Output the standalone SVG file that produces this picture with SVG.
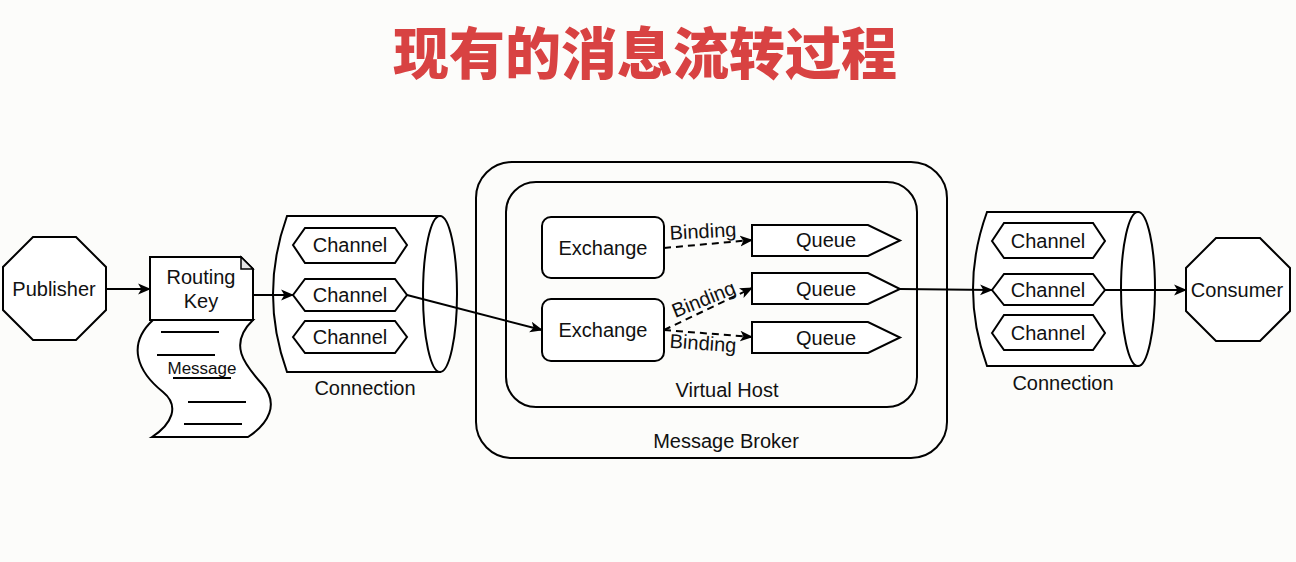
<svg xmlns="http://www.w3.org/2000/svg" width="1296" height="562" viewBox="0 0 1296 562">
<style>
.s{fill:#ffffff;stroke:#000;stroke-width:2}
.n{fill:none;stroke:#000;stroke-width:2}
.t{font-family:"Liberation Sans",Arial,sans-serif;font-size:20px;fill:#111;text-anchor:middle}
.e{stroke:#000;stroke-width:2;fill:none}
.d{stroke:#000;stroke-width:2;fill:none;stroke-dasharray:7 5}
</style>
<defs>
<marker id="ah" viewBox="0 0 12 12" refX="11" refY="6" markerWidth="13" markerHeight="13" markerUnits="userSpaceOnUse" orient="auto">
<path d="M0,1 L12,6 L0,11 L3,6 Z" fill="#000"/>
</marker>
</defs>
<rect width="1296" height="562" fill="#fcfcfa"/>
<text x="645" y="74" font-family="'Noto Sans CJK SC',sans-serif" font-size="56" font-weight="900" fill="#d84242" text-anchor="middle">现有的消息流转过程</text>

<g id="publisher">
<polygon class="s" points="33,237 76,237 106,267 106,310 76,340 33,340 3,310 3,267"/>
<text class="t" x="54" y="296">Publisher</text>
</g>

<g id="message">
<path class="s" d="M153,320 C126,345 138,372 163,392 C180,406 172,424 152,437 L248,437 C268,424 280,404 262,384 C244,364 228,344 253,320 Z"/>
<g class="n">
<line x1="161" y1="332" x2="219" y2="332"/>
<line x1="157" y1="355" x2="215" y2="355"/>
<line x1="173" y1="378" x2="231" y2="378"/>
<line x1="188" y1="402" x2="246" y2="402"/>
<line x1="184" y1="424" x2="242" y2="424"/>
</g>
<text class="t" x="202" y="374" style="font-size:17px">Message</text>
</g>

<g id="routing-key">
<path class="s" d="M150,257 L241,257 L253,269 L253,320 L150,320 Z"/>
<path d="M241,257 L241,269 L253,269 Z" fill="#e6e6e6" stroke="#000" stroke-width="1.5"/>
<text class="t" x="201" y="284">Routing</text>
<text class="t" x="201" y="308">Key</text>
</g>

<g id="connection-left">
<path class="s" d="M287,216 L440,216 L440,372 L287,372 Q259,294 287,216 Z"/>
<ellipse class="s" cx="440" cy="294" rx="17" ry="78"/>
<text class="t" x="365" y="395">Connection</text>
</g>
<g id="channel-l1">
<polygon class="s" points="293,245 305,228 395,228 407,245 395,263 305,263"/>
<text class="t" x="350" y="252">Channel</text>
</g>
<g id="channel-l2">
<polygon class="s" points="293,295 305,279 395,279 407,295 395,311 305,311"/>
<text class="t" x="350" y="302">Channel</text>
</g>
<g id="channel-l3">
<polygon class="s" points="293,337 305,321 395,321 407,337 395,353 305,353"/>
<text class="t" x="350" y="344">Channel</text>
</g>

<g id="message-broker">
<rect class="n" x="476" y="162" width="471" height="296" rx="36"/>
<text class="t" x="726" y="448">Message Broker</text>
</g>
<g id="virtual-host">
<rect class="n" x="506" y="182" width="411" height="225" rx="30"/>
<text class="t" x="727" y="397">Virtual Host</text>
</g>
<g id="exchange-1">
<rect class="s" x="542" y="217" width="122" height="61" rx="9"/>
<text class="t" x="603" y="255">Exchange</text>
</g>
<g id="exchange-2">
<rect class="s" x="542" y="299" width="122" height="62" rx="9"/>
<text class="t" x="603" y="337">Exchange</text>
</g>
<g id="queue-1">
<polygon class="s" points="752,225 868,225 900,240.5 868,256 752,256"/>
<text class="t" x="826" y="247">Queue</text>
</g>
<g id="queue-2">
<polygon class="s" points="752,273 868,273 900,289 868,304 752,304"/>
<text class="t" x="826" y="296">Queue</text>
</g>
<g id="queue-3">
<polygon class="s" points="752,322 868,322 900,337.5 868,353 752,353"/>
<text class="t" x="826" y="345">Queue</text>
</g>

<g id="connection-right">
<path class="s" d="M987,212 L1138,212 L1138,366 L987,366 Q959,289 987,212 Z"/>
<ellipse class="s" cx="1138" cy="289" rx="17" ry="77"/>
<text class="t" x="1063" y="390">Connection</text>
</g>
<g id="channel-r1">
<polygon class="s" points="992,241 1004,223 1093,223 1105,241 1093,258 1004,258"/>
<text class="t" x="1048" y="248">Channel</text>
</g>
<g id="channel-r2">
<polygon class="s" points="992,290 1004,274 1093,274 1105,290 1093,305 1004,305"/>
<text class="t" x="1048" y="297">Channel</text>
</g>
<g id="channel-r3">
<polygon class="s" points="992,333 1004,315 1093,315 1105,333 1093,350 1004,350"/>
<text class="t" x="1048" y="340">Channel</text>
</g>

<g id="consumer">
<polygon class="s" points="1216,238 1260,238 1290,268 1290,311 1260,341 1216,341 1186,311 1186,268"/>
<text class="t" x="1237" y="297">Consumer</text>
</g>

<g id="connectors">
<line class="e" x1="106" y1="289" x2="150" y2="289" marker-end="url(#ah)"/>
<line class="e" x1="253" y1="295" x2="293" y2="295" marker-end="url(#ah)"/>
<line class="e" x1="407" y1="295" x2="542" y2="330" marker-end="url(#ah)"/>
<line class="d" x1="664" y1="248" x2="752" y2="240" marker-end="url(#ah)"/>
<line class="d" x1="664" y1="330" x2="752" y2="288" marker-end="url(#ah)"/>
<line class="d" x1="664" y1="330" x2="752" y2="337" marker-end="url(#ah)"/>
<line class="e" x1="900" y1="289" x2="992" y2="290" marker-end="url(#ah)"/>
<line class="e" x1="1105" y1="290" x2="1186" y2="290" marker-end="url(#ah)"/>
<text class="t" x="703" y="238" transform="rotate(-3 703 232)">Binding</text>
<text class="t" x="704" y="306" transform="rotate(-22 704 300)">Binding</text>
<text class="t" x="703" y="350" transform="rotate(4 703 344)">Binding</text>
</g>
</svg>
